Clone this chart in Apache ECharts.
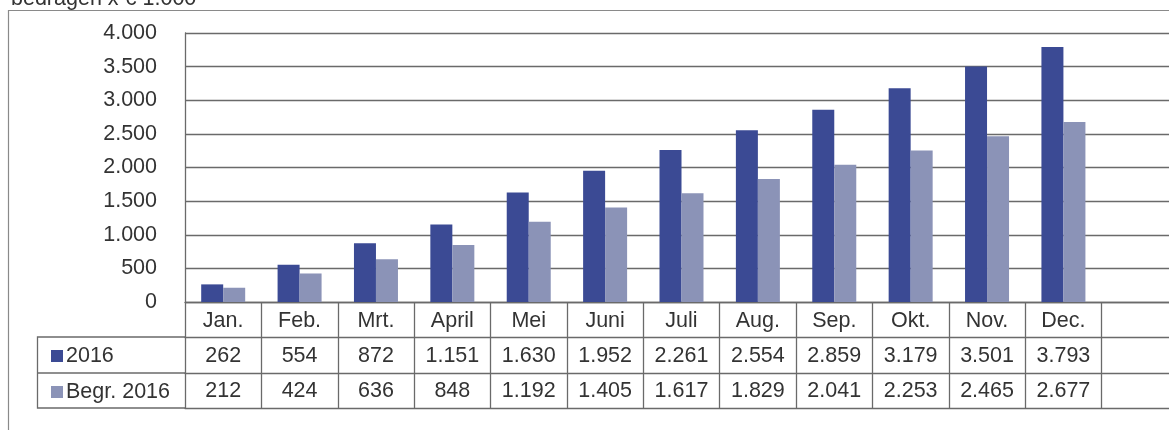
<!DOCTYPE html>
<html>
<head>
<meta charset="utf-8">
<script src="https://cdn.jsdelivr.net/npm/echarts@6/dist/echarts.min.js"></script>
<style>html,body{margin:0;padding:0;background:#fff;}#c{width:1169px;height:430px;}</style>
</head>
<body>
<div id="c"></div>
<script>
const titleText = 'bedragen x € 1.000';
const categories = ['Jan.', 'Feb.', 'Mrt.', 'April', 'Mei', 'Juni', 'Juli', 'Aug.', 'Sep.', 'Okt.', 'Nov.', 'Dec.', ''];
const seriesNames = ['2016', 'Begr. 2016'];
const values2016 = [262, 554, 872, 1151, 1630, 1952, 2261, 2554, 2859, 3179, 3501, 3793];
const valuesBegr = [212, 424, 636, 848, 1192, 1405, 1617, 1829, 2041, 2253, 2465, 2677];
const yMin = 0, yMax = 4000, yStep = 500;

function fmt(n) {
  if (n === null || n === undefined || n === '') return '';
  n = Number(n);
  if (n >= 1000) return Math.floor(n / 1000) + '.' + String(n % 1000).padStart(3, '0');
  return String(n);
}
const row2016 = categories.map((c, i) => i < values2016.length ? fmt(values2016[i]) : '');
const rowBegr = categories.map((c, i) => i < valuesBegr.length ? fmt(valuesBegr[i]) : '');

const FONT = '"Liberation Sans", Arial, sans-serif';
const TXT = '#333';
const LINE = '#6a6a6a';
const FS = 21.5;

const chart = echarts.init(document.getElementById('c'));
const baseX = {
  type: 'category', gridIndex: 0, position: 'bottom',
  axisTick: { show: false },
  axisLine: { show: true, lineStyle: { color: LINE, width: 1.3 } },
  axisLabel: { interval: 0, fontSize: FS, fontFamily: FONT, color: TXT, margin: 8 },
  splitLine: { show: false }
};
chart.setOption({
  animation: false,
  title: { text: titleText, left: 6, top: -17, textStyle: { fontSize: FS, fontWeight: 'normal', fontFamily: FONT, color: TXT } },
  legend: {
    data: seriesNames, orient: 'vertical', left: 46, top: 340, itemGap: 14,
    icon: 'rect', itemWidth: 12, itemHeight: 12,
    textStyle: { fontSize: FS, fontFamily: FONT, color: TXT, padding: [0, 0, 0, -2] },
    selectedMode: false
  },
  grid: { left: 185, top: 33, right: -9, bottom: 128, outerBoundsMode: 'none', containLabel: false },
  xAxis: [
    Object.assign({}, baseX, {
      data: categories,
      axisTick: { show: true, interval: 0, length: 106, lineStyle: { color: LINE, width: 1.3 } }
    }),
    Object.assign({}, baseX, { data: row2016, offset: 35 }),
    Object.assign({}, baseX, { data: rowBegr, offset: 71, axisLabel: Object.assign({}, baseX.axisLabel, { margin: 7 }) }),
    Object.assign({}, baseX, { data: categories.map(() => ''), offset: 106 })
  ],
  yAxis: {
    type: 'value', min: yMin, max: yMax, interval: yStep,
    axisLine: { show: true, lineStyle: { color: LINE, width: 1.3 } },
    axisTick: { show: false },
    axisLabel: { fontSize: FS, fontFamily: FONT, color: TXT, margin: 28, formatter: v => fmt(v) },
    splitLine: { show: true, lineStyle: { color: LINE, width: 1.3 } }
  },
  series: [
    { name: seriesNames[0], type: 'bar', data: values2016, barWidth: 22, barGap: '0%', itemStyle: { color: '#3b4a94' } },
    { name: seriesNames[1], type: 'bar', data: valuesBegr, barWidth: 22, itemStyle: { color: '#8b93b7' } }
  ],
  graphic: [
    { type: 'rect', silent: true, shape: { x: 8.5, y: 10.5, width: 1200, height: 500 }, style: { fill: 'none', stroke: '#8a8a8a', lineWidth: 1.2 } },
    { type: 'polyline', silent: true, shape: { points: [[185, 337], [37.5, 337], [37.5, 408], [185, 408]] }, style: { fill: 'none', stroke: LINE, lineWidth: 1.3 } },
    { type: 'line', silent: true, shape: { x1: 37.5, y1: 373, x2: 185, y2: 373 }, style: { stroke: LINE, lineWidth: 1.3 } }
  ]
});
</script>
</body>
</html>
